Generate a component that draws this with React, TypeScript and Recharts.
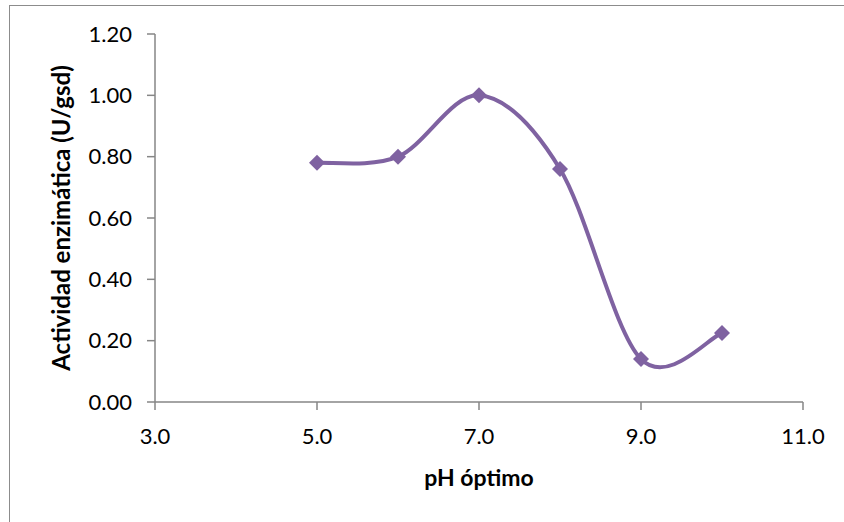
import React from "react";
import { LineChart, Line, XAxis, YAxis } from "recharts";

// pH values and measured enzyme activity
const phValues = [5, 6, 7, 8, 9, 10];
const activity = [0.78, 0.8, 1.0, 0.76, 0.14, 0.225];
const xTicks = [3, 5, 7, 9, 11];
const yTicks = [0, 0.2, 0.4, 0.6, 0.8, 1.0, 1.2];

const data = phValues.map((ph, i) => ({ ph, act: activity[i] }));

const FONT = "Lato, 'Open Sans', sans-serif";
const PURPLE = "#7F62A1";
const AXIS = "#868686";

// smoothed line like a spreadsheet "smoothed line" (catmull-rom style beziers)
const smoothCurve: any = (context: any) => {
  let pts: number[][] = [];
  return {
    areaStart() {},
    areaEnd() {},
    lineStart() {
      pts = [];
    },
    point(x: number, y: number) {
      pts.push([+x, +y]);
    },
    lineEnd() {
      if (!pts.length) return;
      context.moveTo(pts[0][0], pts[0][1]);
      for (let i = 0; i < pts.length - 1; i++) {
        const p0 = pts[i - 1] || pts[i];
        const p1 = pts[i];
        const p2 = pts[i + 1];
        const p3 = pts[i + 2] || p2;
        context.bezierCurveTo(
          p1[0] + (p2[0] - p0[0]) / 6,
          p1[1] + (p2[1] - p0[1]) / 6,
          p2[0] - (p3[0] - p1[0]) / 6,
          p2[1] - (p3[1] - p1[1]) / 6,
          p2[0],
          p2[1]
        );
      }
    },
  };
};

const Diamond = (props: any) => {
  const { cx, cy } = props;
  if (cx == null || cy == null) return null;
  const r = 8;
  return (
    <polygon
      points={`${cx},${cy - r} ${cx + r},${cy} ${cx},${cy + r} ${cx - r},${cy}`}
      fill={PURPLE}
    />
  );
};

export default function App() {
  return (
    <div
      style={{
        position: "relative",
        width: 844,
        height: 522,
        overflow: "hidden",
        background: "#fff",
      }}
    >
      <style>{`body{margin:0}`}</style>
      <div
        style={{
          position: "absolute",
          left: 9,
          top: 5,
          width: 900,
          height: 600,
          border: "1.5px solid #8c8c8c",
        }}
      />
      <div style={{ position: "absolute", left: 0, top: 0 }}>
        <LineChart
          width={844}
          height={522}
          data={data}
          margin={{ top: 34, right: 41, bottom: 35, left: 55 }}
        >
          <XAxis
            dataKey="ph"
            type="number"
            domain={[3, 11]}
            ticks={xTicks}
            tickFormatter={(v: number) => v.toFixed(1)}
            height={85}
            tickSize={8}
            tickMargin={18}
            stroke={AXIS}
            strokeWidth={1.5}
            tick={{ fill: "#000", fontSize: 22, fontFamily: FONT }}
            label={{
              content: (p: any) => {
                const vb = p.viewBox;
                return (
                  <text
                    x={vb.x + vb.width / 2}
                    y={486}
                    textAnchor="middle"
                    fontSize={23}
                    fontWeight="bold"
                    fontFamily={FONT}
                    fill="#000"
                  >
                    pH óptimo
                  </text>
                );
              },
            }}
          />
          <YAxis
            type="number"
            domain={[0, 1.2]}
            ticks={yTicks}
            tickFormatter={(v: number) => v.toFixed(2)}
            width={100}
            tickSize={8}
            tickMargin={15}
            stroke={AXIS}
            strokeWidth={1.5}
            tick={{ fill: "#000", fontSize: 22, fontFamily: FONT }}
            label={{
              content: (p: any) => {
                const vb = p.viewBox;
                const cy = vb.y + vb.height / 2;
                return (
                  <text
                    x={70}
                    y={cy}
                    transform={`rotate(-90, 70, ${cy})`}
                    textAnchor="middle"
                    fontSize={24}
                    fontWeight="bold"
                    fontFamily={FONT}
                    fill="#000"
                  >
                    Actividad enzimática (U/gsd)
                  </text>
                );
              },
            }}
          />
          <Line
            dataKey="act"
            type={smoothCurve}
            stroke={PURPLE}
            strokeWidth={4}
            dot={<Diamond />}
            activeDot={false}
            isAnimationActive={false}
          />
        </LineChart>
      </div>
    </div>
  );
}
